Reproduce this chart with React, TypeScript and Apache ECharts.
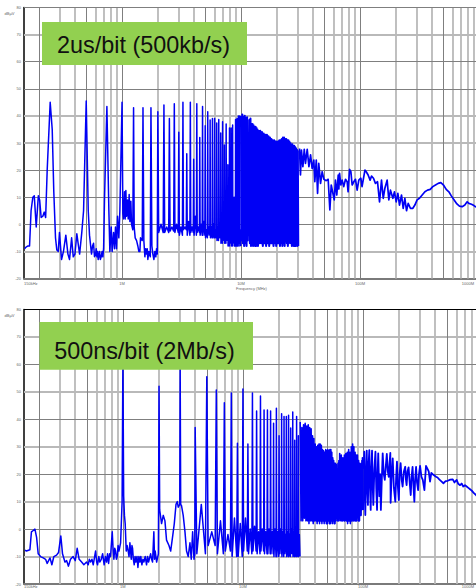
import React, { useEffect, useRef } from "react";
import * as echarts from "echarts";

type Pt = [number, number];

// ---------- upper panel: 2us/bit (500kb/s) ----------
const slowLow: Pt[] = [
  [0.152, -9], [0.155, -8.5], [0.162, -8], [0.167, -8], [0.172, 5], [0.178, 10], [0.183, 10.5], [0.19, -1],
  [0.198, 10.5], [0.203, 9], [0.209, 2.5], [0.216, 3], [0.222, 4.5], [0.228, 2.5], [0.235, 20], [0.249, 45],
  [0.259, 35], [0.267, 12], [0.276, -5], [0.283, -9.5], [0.291, -10], [0.298, -3], [0.31, -13], [0.322, -10],
  [0.337, -4], [0.351, -11], [0.362, -13], [0.377, -5], [0.389, -12], [0.402, -11], [0.417, -3.5], [0.44, -11],
  [0.459, -3], [0.475, 5], [0.5, 45.5], [0.52, 5], [0.533, -4], [0.554, -11], [0.565, -8], [0.576, -7], [0.587, -12], [0.599, -11],
  [0.607, -9], [0.615, -12], [0.622, -10], [0.63, -13], [0.647, -10], [0.657, -13], [0.668, -12], [0.68, -10], [0.69, -12], [0.7, -9], [0.713, 10], [0.746, 43.5], [0.775, 5],
  [0.79, -10], [0.811, -1], [0.826, -10], [0.849, -3], [0.865, -9], [0.881, -1], [0.899, -9], [0.917, 3],
  [0.94, -5], [0.959, 5], [1, 45], [1.016, 4], [1.03, 2], [1.05, 12], [1.064, 2], [1.077, 12.5], [1.091, 3],
  [1.112, 9], [1.127, 2], [1.148, 11], [1.164, 1], [1.186, 8.5], [1.202, 0], [1.232, -2], [1.25, 43],
  [1.265, -1], [1.29, -5], [1.325, -6], [1.358, -8], [1.384, -10], [1.413, -10], [1.43, -5], [1.478, -6], [1.5, 43],
  [1.525, -6], [1.556, -12], [1.58, -9], [1.607, -11], [1.628, -9], [1.648, -13], [1.68, -10], [1.728, -12], [1.75, 43], [1.782, -8], [1.816, -11],
  [1.853, -13], [1.888, -10], [1.923, -12], [1.95, -9], [1.978, -11],
];
const slowCombFreq = [2, 2.25, 2.5, 2.75, 3, 3.25, 3.5, 3.75, 4, 4.25, 4.5, 4.75, 5, 5.25, 5.5, 5.75, 6, 6.25, 6.5, 6.75, 7, 7.25, 7.5, 7.75, 8, 8.25, 8.5, 8.75, 9, 9.25, 9.5, 9.75];
const slowCombPeak = [41.5, 44, 39, 44.5, 34, 45, 26, 45, 24, 44.5, 32, 43.5, 36.4, 41.5, 38.5, 39, 39, 37.4, 38.7, 33.7, 37.8, 29.3, 37, 22, 35.5, 35.5, 36.6, 10, 38.7, 39, 40, 40];
const slowCombLow = [-3, -3, -2.5, -3, -4, -2, -4, -3, -4, -3, -4, -4, -5, -4, -5, -5, -5, -6, -5, -7, -6, -7, -6, -8, -7, -8, -7, -8, -8, -8, -7, -8];
const slowCombHigh = [0, -1, -1, 0, -1, -1, 1, -1, 3, -1, 0, 1, -2, -1, -1, 0, -2, -1, -2, 0, -2, -1, -3, 0, -2, -1, -3, 6, -2, -3, 0, -2];
const slowDenseFreq = [10, 10.25, 10.5, 10.75, 11, 11.25, 11.5, 11.75, 12, 12.25, 12.5, 12.75, 13, 13.25, 13.5, 13.75, 14, 14.5, 15, 15.5, 16, 16.5, 17, 17.5, 18, 18.5, 19, 19.5, 20, 20.5, 21, 21.5, 22, 22.5, 23, 23.5, 24, 24.5, 25, 25.5, 26, 26.5, 27, 27.5, 28, 28.5, 29, 29.5, 30];
const slowDensePeak = [40, 40.5, 39.5, 40, 39, 39.5, 26, 38.5, 39, 37, 37, 36.5, 36, 36, 35.5, 35, 34.5, 34.5, 34, 33.5, 33, 33, 32.5, 32, 31.5, 31, 31, 30.5, 30.5, 30.5, 31, 31, 31.5, 32, 32, 31.5, 31.5, 31, 31, 30.5, 30, 29.5, 29.5, 29, 29, 28.5, 28, 27.5, 27];
const slowDenseLow = [-6, -7, -8, -7, -8, -6, -4, -7, -8, -7, -8, -7, -8, -8, -7, -8, -7, -7, -8, -7, -8, -7, -8, -7, -7, -8, -7, -8, -7, -7, -8, -7, -8, -7, -8, -6, -7, -8, -7, -4, -7, -8, -7, -8, -8, -8, -7, -8, -8];
const slowTail: Pt[] = [
  [31, 28], [31.6, 18.2], [32.2, 27.4], [33.1, 21.3], [34, 27.7], [34.8, 22.5], [36, 27.7], [37.2, 21.3],
  [38.4, 25.6], [39.6, 20.6], [40.9, 23.7], [41.7, 15.7], [42.9, 23.7], [44, 11.4], [45, 22.5], [46.6, 15.1],
  [48.1, 19.4], [49.7, 16.6], [52, 16.1], [54, 16.6], [55.8, 5.3], [57.3, 14.5], [59.2, 11.4], [60.7, 9],
  [62.2, 16.3], [63.8, 10.8], [65.6, 18.2], [66.4, 13], [67.3, 18.8], [69, 14.5], [70.8, 16.3], [73, 13.9], [75.5, 16.6],
  [78, 15.7], [79.4, 12], [81.7, 20.3], [83.8, 19.4], [85.9, 14.5], [88.7, 15.7], [91.6, 16.6], [94.6, 12.6],
  [97.7, 16.3], [101.6, 17], [104, 13.9], [110, 20], [112.8, 19.4], [117, 18.2], [121.6, 16.3], [125, 17.8],
  [129.8, 17], [134.8, 15.1], [140.3, 15.7], [145.9, 8.3], [151.6, 16.3], [156.7, 9.6], [161.8, 13.3],
  [169, 16.3], [174.7, 9], [180.3, 12.6], [188.8, 9.6], [194.8, 12], [201.4, 8.3], [208, 11.4], [214.7, 7.1],
  [223.3, 10.8], [230.7, 5.9], [238.2, 9.6], [246, 5], [254, 7.7], [265.5, 5.9], [278, 5.9], [289, 7.1],
  [302, 9], [316, 9.6], [333, 10.8], [351, 12], [369, 12.6], [389, 12.9], [409, 13.9], [431, 14.5], [454, 15.1],
  [478, 15.4], [503, 14.5], [530, 12.9], [558, 12], [587, 10.4], [618, 9], [652, 7.5], [685, 6.7], [722, 6.5],
  [760, 7.1], [795, 8.3], [822, 7.7], [865, 7.4], [906, 6.9], [935, 6.5], [970, 6.3],
];

// ---------- lower panel: 500ns/bit (2Mb/s) ----------
const fastLow: Pt[] = [
  [0.153, -7.6], [0.157, -8], [0.168, -7.5], [0.173, -1], [0.179, -0.5], [0.185, 0], [0.191, -3], [0.197, -9],
  [0.206, -10], [0.217, -10.5], [0.227, -11], [0.234, -12.5], [0.247, -10.5], [0.256, -13], [0.266, -10],
  [0.28, -9.5], [0.291, -8.5], [0.304, -2.5], [0.314, -9], [0.329, -12], [0.34, -11.5], [0.352, -13.5],
  [0.366, -11], [0.385, -10], [0.401, -11.5], [0.416, -7], [0.432, -11], [0.453, -12], [0.473, -13], [0.498, -12],
  [0.514, -13], [0.525, -11], [0.538, -12], [0.552, -11], [0.566, -13], [0.592, -8], [0.605, -12], [0.615, -13], [0.63, -10], [0.643, -12], [0.66, -11], [0.678, -9], [0.698, -13],
  [0.715, -10], [0.731, -12], [0.745, -9], [0.76, -12.5], [0.775, -9], [0.789, -10], [0.815, -1], [0.83, -8], [0.841, -11], [0.855, -7], [0.869, -8], [0.883, -11], [0.897, -10], [0.912, -6], [0.927, -8],
  [0.957, -5], [0.985, 10], [1, 62], [1.015, 12], [1.03, 5], [1.045, 2], [1.066, -8], [1.085, -6], [1.107, -8], [1.125, -10], [1.144, -5], [1.174, -11], [1.19, -6], [1.204, -7], [1.222, -11],
  [1.243, -13], [1.263, -10], [1.283, -12], [1.31, -10], [1.334, -14], [1.36, -10], [1.386, -12], [1.41, -10], [1.44, -13], [1.468, -11], [1.496, -12], [1.535, -10], [1.574, -13], [1.605, -10], [1.637, -12],
  [1.702, -9], [1.735, -11], [1.766, -12], [1.811, -1], [1.835, -11], [1.858, -8], [1.91, -12], [1.975, -9], [2, 52], [2.025, 7], [2.1, 2], [2.17, 5],
  [2.24, 3], [2.31, -4], [2.42, -6], [2.5, -8], [2.59, -3], [2.68, 2], [2.77, 9], [2.84, 10], [2.89, 8], [2.975, 9], [3, 59],
  [3.03, 9], [3.08, 8.5], [3.18, 5], [3.29, -1], [3.39, -8], [3.5, -10], [3.62, -5], [3.71, -11], [3.81, -1], [3.91, -11], [3.97, -9],
];
const fastCombFreq = [4, 5, 6, 7, 8, 9, 10, 11, 12, 13, 14, 15, 16, 17, 18, 19, 20, 21, 22, 23, 24, 25, 26, 27, 28, 29];
const fastCombPeak = [37, 55.5, 50.7, 46, 49.6, 31.3, 51, 31, 49.6, 43, 48.5, 43.4, 43.4, 43, 38.6, 44, 34, 42, 41, 41, 41.5, 36.8, 42.7, 32.4, 41, 34];
const fastCombLow = [-9, -6, -9, -8, -10, -10, -8, -9, -8, -9, -8, -9, -9, -9, -10, -10, -9, -10, -9, -10, -10, -9, -10, -10, -10, -10];
const fastCombHigh = [9, -1, 3, -2, 4, 2, 4, 0, 1, -1, 0, -1, 0, -1, 0, -1, 0, -1, -2, -1, -2, 0, -1, -2, -1, -2];
const fastDenseFreq = [30, 31, 32, 33, 34, 35, 36, 37, 38, 39, 40, 41, 42, 43, 44, 45, 46, 47, 48, 49, 50, 51, 52, 53, 54, 55, 56, 57, 58, 59, 60, 61, 62, 63, 64, 65, 66, 67, 68, 69, 70, 71, 72, 73, 74, 75, 76, 77, 78, 79, 80, 81, 82, 83, 84, 85, 86, 87, 88, 89, 90, 91, 92, 93, 94, 95, 96, 97, 98, 99, 100];
const fastDensePeak = [39, 37, 38, 38.5, 37.5, 38, 37, 36.5, 34, 33, 31, 30, 30.5, 31, 31, 30.5, 29, 28.5, 28, 29, 28.5, 29, 28.5, 29, 29, 28, 26, 25, 24, 24, 23.5, 22, 24, 25, 27.5, 25, 27, 24, 26, 25, 27, 26, 27.5, 25, 28, 26, 29, 26, 28, 27, 30, 28, 31, 29, 30, 25, 28, 24, 27, 23, 27, 24, 25, 22, 24, 21, 23, 24, 25, 26, 25];
const fastDenseLow = [3, 3, 4, 3, 3, 2, 3, 3, 2, 3, 3, 2, 3, 2, 3, 2, 3, 2, 3, 2, 2, 3, 2, 2, 3, 2, 3, 2, 2, 3, 4, 3, 3, 4, 3, 4, 3, 3, 4, 3, 3, 4, 3, 3, 2, 3, 3, 3, 2, 3, 3, 3, 4, 3, 3, 4, 3, 4, 3, 4, 7, 3, 9, 3, 5, 8, 5, 7, 9, 8, 7];
const fastTail: Pt[] = [
  [101.3, 22], [102.6, 28.2], [103.6, 12], [104.6, 5.1], [106, 20], [107.5, 28.6], [108.8, 14], [110, 8.8], [111.5, 24], [113, 28.8], [114.5, 15], [116, 7],
  [117.5, 22], [119, 28.6], [120.5, 16], [122, 8.8], [124.5, 22], [127, 28.2], [129, 15], [131, 7], [132.5, 20], [134, 27.6], [137, 12], [139, 20], [141, 7], [143.5, 18], [146, 27.6],
  [149, 20], [152, 17.9], [155, 23], [158, 27.4], [161, 21], [164, 19], [166.5, 24], [169, 27.8],
  [170, 9.6], [173.5, 20], [177, 25.8], [181, 15], [186, 10], [189, 19], [192, 24.6], [195, 16], [199, 10.6], [202, 20], [206, 24], [210, 18], [214, 15.5], [219, 21], [225, 22.7], [228, 18], [231, 16],
  [235, 21], [240, 22.5], [245, 17], [250, 12.4], [254, 19], [259, 22.7], [264, 15], [268, 10], [272, 18], [277, 22.7], [282, 17], [288, 14.2], [293, 20], [299, 23], [307, 19], [315, 17.9], [325, 14.2],
  [335, 23], [344, 22], [353, 21], [362, 17.3], [371, 20.5], [381, 20], [406, 19.1], [418, 18.8], [432, 18.1], [450, 17.4], [468, 16.7], [488, 17.5], [508, 17.6], [534, 18], [560, 18.1], [578, 17],
  [604, 17.9], [622, 16.5], [644, 16], [664, 16.6], [685, 15.5], [708, 16], [731, 15.5], [755, 15], [780, 14.5], [806, 14], [832, 13.3], [875, 12.4], [920, 11],
];

// ---------- axes and grid ----------
const titles = ["2us/bit (500kb/s)", "500ns/bit (2Mb/s)"];
const freqTicks = [0.15, 1, 10, 100, 1000];
const freqTickLabels = ["150kHz", "1M", "10M", "100M", "1000M"];
const strongFreqLines = [0.2, 0.5, 1, 5, 10, 50, 100, 500];
const softFreqLines = [0.3, 0.4, 0.6, 0.7, 0.8, 0.9, 2, 3, 4, 6, 7, 8, 9, 20, 30, 40, 60, 70, 80, 90, 200, 300, 400, 600, 700, 800, 900];
const strongDbLinesTop = [60, 50, 20, 10, 0];
const softDbLinesTop = [70, 40, 30, -10];
const strongDbLinesBottom = [60, 40, 20, 0];
const softDbLinesBottom = [70, 50, 30, 10, -10];

function teeth(freqs: number[], peaks: number[], lows: number[], highs?: number[]): Pt[] {
  const out: Pt[] = [];
  freqs.forEach((f, i) => {
    const gap = (i + 1 < freqs.length ? freqs[i + 1] : f + (f - freqs[i - 1])) - f;
    out.push([f, peaks[i]]);
    if (highs) {
      out.push([f + gap * 0.13, lows[i]]);
      out.push([f + gap * 0.5, highs[i]]);
      out.push([f + gap * 0.87, lows[i]]);
    } else {
      out.push([f + gap * 0.5, lows[i]]);
    }
  });
  return out;
}

const slowTrace: Pt[] = [...slowLow, ...teeth(slowCombFreq, slowCombPeak, slowCombLow, slowCombHigh)];
const slowDense: Pt[] = teeth(slowDenseFreq, slowDensePeak, slowDenseLow);
const fastTrace: Pt[] = [...fastLow, ...teeth(fastCombFreq, fastCombPeak, fastCombLow, fastCombHigh)];
const fastDense: Pt[] = teeth(fastDenseFreq, fastDensePeak, fastDenseLow);

const strong = { color: "#7f7f7f", width: 1, type: "solid" as const };
const soft = { color: "#b9b9b9", width: 1.8, type: "solid" as const };

function gridSeries(idx: number, strongDb: number[], softDb: number[], topColor: string) {
  const data = [
    ...softFreqLines.map((v) => ({ xAxis: v, lineStyle: soft })),
    ...softDb.map((v) => ({ yAxis: v, lineStyle: soft })),
    ...strongFreqLines.map((v) => ({ xAxis: v, lineStyle: strong })),
    ...strongDb.map((v) => ({ yAxis: v, lineStyle: strong })),
    { yAxis: 80, lineStyle: { color: topColor, width: 1.2, type: "solid" as const } },
  ];
  return {
    type: "line",
    name: "grid" + idx,
    xAxisIndex: idx,
    yAxisIndex: idx,
    data: [],
    z: 1,
    silent: true,
    markLine: { silent: true, symbol: "none", label: { show: false }, animation: false, data },
  };
}

function xAxis(idx: number, name: string, gap: number, margin: number, endPad: number) {
  return {
    type: "log",
    gridIndex: idx,
    logBase: 10,
    min: 0.15,
    max: 1000,
    name,
    nameLocation: "middle",
    nameGap: gap,
    nameTextStyle: { fontSize: 4, color: "#666666", fontFamily: "Liberation Sans" },
    axisLine: { show: true, onZero: false, lineStyle: { color: "#7a7a7a", width: 2 } },
    axisTick: { show: false },
    splitLine: { show: false },
    minorTick: { show: false },
    minorSplitLine: { show: false },
    axisLabel: {
      show: true,
      customValues: freqTicks,
      margin,
      fontSize: 4,
      color: "#666666",
      fontFamily: "Liberation Sans",
      alignMinLabel: "left",
      alignMaxLabel: "right",
      hideOverlap: false,
      showMinLabel: true,
      showMaxLabel: true,
      rich: { end: { fontSize: 4, color: "#666666", fontFamily: "Liberation Sans", padding: [0, endPad, 0, 0] } },
      formatter: (v: number) => {
        const i = freqTicks.findIndex((t) => Math.abs(Math.log10(t) - Math.log10(v)) < 0.01);
        if (i < 0) return "";
        return i === freqTicks.length - 1 ? `{end|${freqTickLabels[i]}}` : freqTickLabels[i];
      },
    },
  };
}

function yAxis(idx: number) {
  return {
    type: "value",
    gridIndex: idx,
    min: -20,
    max: 80,
    interval: 10,
    axisLine: { show: true, onZero: false, lineStyle: { color: "#000000", width: 1.5 } },
    axisTick: { show: false },
    splitLine: { show: false },
    axisLabel: { margin: 3, fontSize: 4, color: "#666666", fontFamily: "Liberation Sans" },
  };
}

function traceSeries(idx: number, name: string, data: Pt[], width: number) {
  return {
    type: "line",
    name,
    xAxisIndex: idx,
    yAxisIndex: idx,
    data,
    z: 5,
    showSymbol: false,
    lineStyle: { color: "#0000f5", width, join: "round" },
    itemStyle: { color: "#0000f5" },
    silent: true,
  };
}

function banner(x: number, y: number, w: number, h: number, label: string, tx: number, ty: number) {
  return [
    { type: "rect", z: 100, shape: { x, y, width: w, height: h }, style: { fill: "#92d050" } },
    {
      type: "text",
      z: 101,
      x: tx,
      y: ty,
      style: {
        text: label,
        fill: "#111111",
        font: '23.4px "Liberation Sans"',
        textAlign: "center",
        textVerticalAlign: "middle",
      },
    },
  ];
}

function unitLabel(y: number) {
  return {
    type: "text",
    z: 101,
    x: 9.5,
    y,
    style: {
      text: "dBµV",
      fill: "#666666",
      font: '4px "Liberation Sans"',
      textAlign: "center",
      textVerticalAlign: "middle",
    },
  };
}

export default function App() {
  const ref = useRef<HTMLDivElement>(null);
  useEffect(() => {
    if (!ref.current) return;
    const chart = echarts.init(ref.current, undefined, { renderer: "svg" });
    chart.setOption({
      animation: false,
      backgroundColor: "#ffffff",
      grid: [
        { left: 24, top: 7.5, width: 455, height: 271, outerBoundsMode: "none" },
        { left: 24, top: 309.5, width: 459, height: 274.5, outerBoundsMode: "none" },
      ],
      xAxis: [xAxis(0, "Frequency (MHz)", 8, 2.5, 5), xAxis(1, "", 0, 0, 9)],
      yAxis: [yAxis(0), yAxis(1)],
      series: [
        gridSeries(0, strongDbLinesTop, softDbLinesTop, "#7f7f7f"),
        gridSeries(1, strongDbLinesBottom, softDbLinesBottom, "#000000"),
        traceSeries(0, titles[0], slowTrace, 1.5),
        traceSeries(0, titles[0] + " dense", slowDense, 2.1),
        traceSeries(0, titles[0] + " tail", slowTail, 1.7),
        traceSeries(1, titles[1], fastTrace, 1.5),
        traceSeries(1, titles[1] + " dense", fastDense, 1.6),
        traceSeries(1, titles[1] + " tail", fastTail, 1.8),
      ],
      graphic: [
        ...banner(42, 22, 205, 43, titles[0], 143.5, 45),
        ...banner(39.5, 322, 213.5, 47.7, titles[1], 144.5, 351),
        unitLabel(13.7),
        unitLabel(315.7),
      ],
    });
    return () => chart.dispose();
  }, []);
  return <div ref={ref} style={{ position: "absolute", left: 0, top: 0, width: 476, height: 588 }} />;
}
